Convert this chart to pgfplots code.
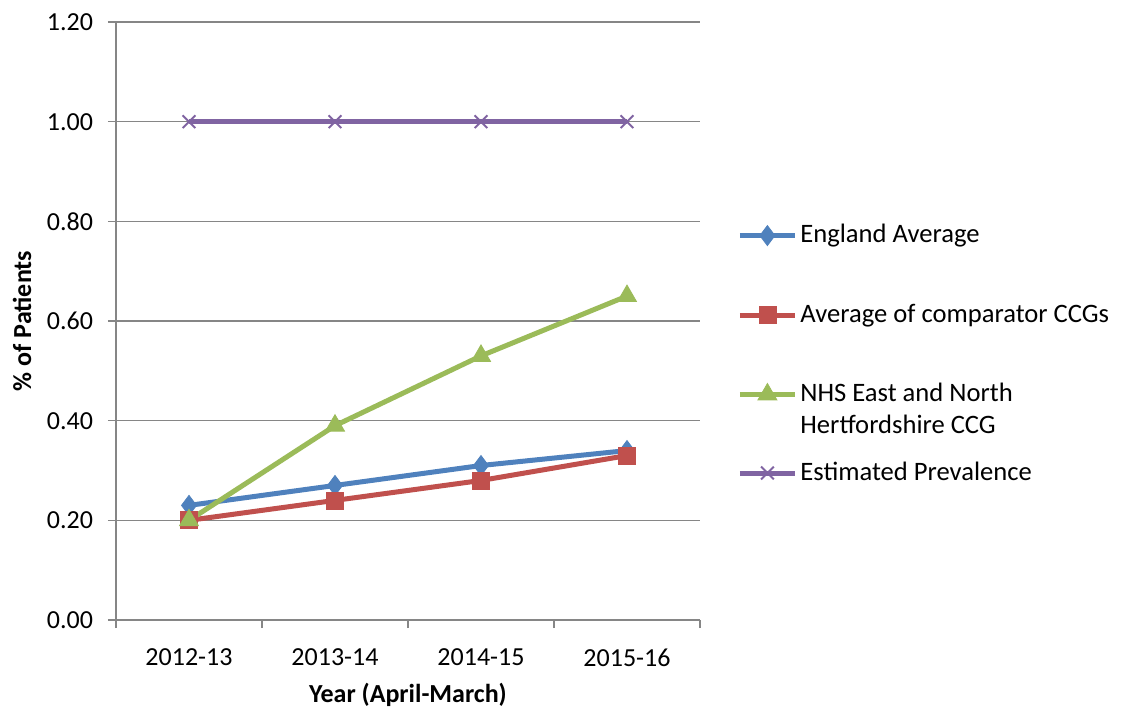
\documentclass[border=0pt]{standalone}
\usepackage{fontspec}
\setmainfont{Carlito}
\usepackage{pgfplots}
\pgfplotsset{compat=1.18}
\definecolor{cblue}{HTML}{4F81BD}
\definecolor{cred}{HTML}{C0504D}
\definecolor{cgreen}{HTML}{9BBB59}
\definecolor{cpurple}{HTML}{8064A2}
\definecolor{axgray}{HTML}{868686}
\pgfplotsset{
  common/.style={
    at={(58pt,44.5pt)}, anchor=south west,
    scale only axis, width=292pt, height=299pt,
    xmin=0, xmax=4, ymin=0, ymax=1.2,
    legend cell align=left,
    legend image code/.code={\draw[mark repeat=2,mark phase=2,##1] plot coordinates {(0pt,0pt)(13.75pt,0pt)(27.5pt,0pt)};},
    every axis plot/.append style={line width=2.5pt},
  },
  shiftimg/.style={
    legend image code/.code={\draw[yshift=8pt,mark repeat=2,mark phase=2,##1] plot coordinates {(0pt,0pt)(13.75pt,0pt)(27.5pt,0pt)};},
  },
}
\begin{document}
\fontsize{13}{16}\selectfont
\begin{tikzpicture}
\useasboundingbox (0,0) rectangle (560.5pt,354.5pt);
\begin{axis}[common,
  axis x line*=bottom, axis y line*=left,
  axis line style={draw=axgray, line width=0.75pt, -},
  tick align=outside,
  major tick length=4pt, minor tick length=4pt,
  tick style={draw=axgray, line width=0.75pt},
  xtick={0.5,1.5,2.5,3.5},
  xticklabels={2012-13,2013-14,2014-15,2015-16},
  major x tick style={draw=none},
  minor xtick={0,1,2,3,4},
  ytick={0,0.2,0.4,0.6,0.8,1.0,1.2},
  ymajorgrids, grid style={draw=axgray, line width=0.75pt},
  yticklabel style={xshift=-3pt, /pgf/number format/.cd, fixed, fixed zerofill, precision=2, assume math mode=true},
  ticklabel style={font=\fontsize{13}{16}\selectfont},
  xticklabel style={yshift=-6pt},
  xlabel={\textbf{Year (April-March)}},
  ylabel={\textbf{\% of Patients}},
  xlabel style={at={(axis description cs:0.5,0)}, anchor=center, yshift=-37.5pt},
  ylabel style={at={(axis description cs:0,0.5)}, anchor=center, yshift=47pt},
  legend style={at={(axis description cs:1.0634,0.6622)}, anchor=north west,
    draw=none, fill=none, inner sep=0pt, row sep=28.6pt, column sep=0pt,
    nodes={inner xsep=1.5pt, inner ysep=0pt, align=left, font=\fontsize{13.3}{16}\selectfont}},
]
\addplot[color=cblue, mark=diamond*, mark size=5pt, mark options={solid, line width=0.4pt, fill=cblue}]
  coordinates {(0.5,0.23)(1.5,0.27)(2.5,0.31)(3.5,0.34)};
\addlegendentry{England Average}
\addplot[color=cred, mark=square*, mark size=4.25pt, mark options={solid, line width=0.4pt, fill=cred}]
  coordinates {(0.5,0.20)(1.5,0.24)(2.5,0.28)(3.5,0.33)};
\addlegendentry{Average of comparator CCGs}
\addplot[color=cgreen, mark=triangle*, mark size=5.5pt, mark options={solid, line width=0.4pt, fill=cgreen}, shiftimg]
  coordinates {(0.5,0.20)(1.5,0.39)(2.5,0.53)(3.5,0.65)};
\addlegendentry{NHS East and North\\Hertfordshire CCG}
\addplot[color=cpurple, mark=x, mark size=4.5pt, mark options={solid, line width=1pt}, forget plot]
  coordinates {(0.5,1.0)(1.5,1.0)(2.5,1.0)(3.5,1.0)};
\end{axis}
\begin{axis}[common, hide axis,
  legend style={at={(axis description cs:1.0634,0.2458)}, anchor=west,
    draw=none, fill=none, inner sep=0pt, column sep=0pt,
    nodes={inner xsep=1.5pt, inner ysep=0pt, font=\fontsize{13.3}{16}\selectfont}},
]
\addlegendimage{color=cpurple, line width=2.5pt, mark=x, mark size=4.5pt, mark options={solid, line width=1pt}}
\addlegendentry{Estimated Prevalence}
\end{axis}
\end{tikzpicture}
\end{document}
